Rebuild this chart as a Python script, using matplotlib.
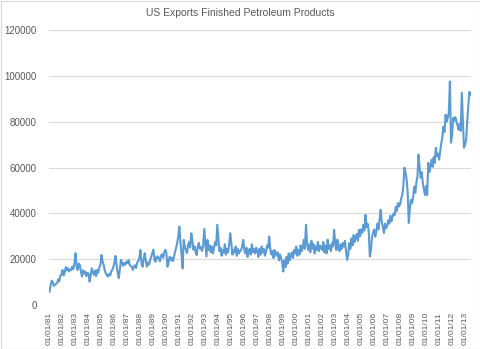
import matplotlib
matplotlib.use("Agg")
import matplotlib.pyplot as plt
from matplotlib.patches import Rectangle

plt.rcParams['font.family'] = ['Liberation Sans', 'DejaVu Sans']

title = "US Exports Finished Petroleum Products"
years = list(range(1981, 2014))
tick_labels = ["01/01/%02d" % (y % 100) for y in years]
y_ticks = [0, 20000, 40000, 60000, 80000, 100000, 120000]

# monthly values, Jan 1981 - Jun 2013
exports = [
    5800, 8600, 10600, 10000, 8300, 8900, 9200, 9600, 11200, 10300, 12800, 13300,
    15300, 12900, 14200, 16500, 15100, 16100, 14600, 15500, 15200, 16800, 15700, 18200,
    22600, 16900, 15300, 18100, 17400, 14600, 12400, 15200, 13700, 14600, 12600, 14100,
    13800, 10200, 12600, 16000, 14400, 13100, 15100, 12600, 15300, 14100, 16600, 17400,
    21800, 19100, 17500, 15100, 13800, 13000, 12400, 13600, 12900, 14600, 15300, 16600,
    18600, 21400, 17100, 14100, 11700, 15600, 19700, 18600, 17100, 18300, 17600, 18900,
    18300, 19600, 17500, 17100, 16600, 15300, 16900, 17300, 16100, 18600, 19100, 20600,
    24000, 18100, 16700, 20100, 22600, 19100, 16700, 18600, 17600, 19600, 21100, 22600,
    24200, 19600, 18900, 21100, 21200, 20100, 19100, 21600, 22100, 20600, 23100, 24100,
    22600, 16700, 18600, 21100, 19700, 20600, 19100, 21200, 23100, 25100, 27100, 30100,
    34200, 27100, 22000, 16000, 28400, 25600, 24100, 22600, 26100, 27600, 25100, 31300,
    28000, 24100, 25600, 23100, 21800, 25600, 27100, 24600, 25100, 23600, 26000, 33200,
    27000, 21100, 28400, 24000, 26000, 23000, 25500, 22500, 24800, 27500, 26000, 35000,
    29000, 23500, 25000, 21500, 24000, 22800, 26500, 22000, 24500, 23000, 26500, 31300,
    27000, 22000, 24000, 23000, 25500, 21500, 24500, 22500, 23500, 24000, 25500, 28400,
    24000, 22500, 25000, 21000, 23500, 24500, 22000, 26500, 23000, 24500, 22500, 25000,
    23500, 21000, 24500, 22000, 25500, 23000, 24500, 21500, 23000, 26000, 25000, 29900,
    24500, 22000, 23500, 20500, 24000, 22500, 21500, 23000, 19500, 22000, 20500, 18500,
    14600, 19500, 16500, 21000, 18000, 22500, 19500, 21500, 23000, 20500, 24000, 22500,
    25500, 21500, 24000, 22000, 26000, 23500, 25000, 28500, 24500, 35000, 27000, 24000,
    26500, 23000, 28000, 24500, 26500, 22500, 25500, 24000, 27500, 23500, 26000, 25000,
    24000, 27500, 23000, 26000, 22500, 28500, 24500, 26000, 23500, 27000, 25500, 32800,
    27000, 24000, 28500, 25000, 23500, 26500, 24500, 27000, 25500, 28000, 23500, 19700,
    22000, 27000, 24500, 29000, 26000, 30500, 27500, 29500, 31000, 28000, 32800, 30000,
    33000, 31500, 35000, 32500, 39300, 34000, 35500, 32000, 21100, 24000, 29800, 31500,
    33000, 29800, 32000, 35500, 33000, 37000, 41500, 36500, 34000, 31400, 35500, 33500,
    34500, 37000, 35500, 39000, 36500, 38500, 40000, 39300, 42800, 41000, 44500, 43000,
    44000, 46500, 48000, 52000, 59900, 57700, 55000, 49000, 35800, 42000, 45900, 44500,
    47000, 51600, 49000, 53500, 56000, 65600, 60000, 55500, 58000, 53000, 50500, 48000,
    52000, 48000, 62000, 58000, 60500, 63400, 60300, 64500, 62000, 68600, 65000, 66000,
    63400, 67000, 70500, 73000, 77800, 75500, 83000, 80000, 81700, 84000, 97500, 70800,
    74000, 81700, 80500, 82000, 80000, 78500, 76500, 79000, 76000, 92600, 80000, 68600,
    70000, 72100, 80000, 87000, 93000, 91800,
]

text_color = "#595959"
grid_color = "#d9d9d9"
line_color = "#5b9bd5"

fig = plt.figure(figsize=(4.8, 3.49), dpi=100)
ax = fig.add_axes([49/480, 1 - 305/349, 422/480, 275/349])

x = list(range(len(exports)))
ax.plot(x, exports, color=line_color, lw=1.5, solid_joinstyle='round')

ax.set_ylim(0, 120000)
ax.set_yticks(y_ticks)
ax.set_yticklabels([str(v) for v in y_ticks])
ax.set_xlim(-0.5, len(exports) - 0.5)
ax.set_xticks(list(range(0, len(exports), 12)))
ax.set_xticklabels(tick_labels, rotation=90)

ax.grid(axis='y', color=grid_color, lw=0.8)
ax.set_axisbelow(True)
for s in ax.spines.values():
    s.set_visible(False)
ax.tick_params(axis='both', length=0, colors=text_color)
ax.tick_params(axis='y', labelsize=7, pad=9)
ax.tick_params(axis='x', labelsize=6, pad=5)

fig.text(0.5, 1 - 13/349, title, ha='center', va='center', fontsize=7.5, color=text_color)
fig.patches.append(Rectangle((0.5/480, 0.5/349), 1 - 1/480, 1 - 1/349, transform=fig.transFigure,
                             fill=False, edgecolor=grid_color, lw=0.8))

fig.savefig("out.png", dpi=100)
